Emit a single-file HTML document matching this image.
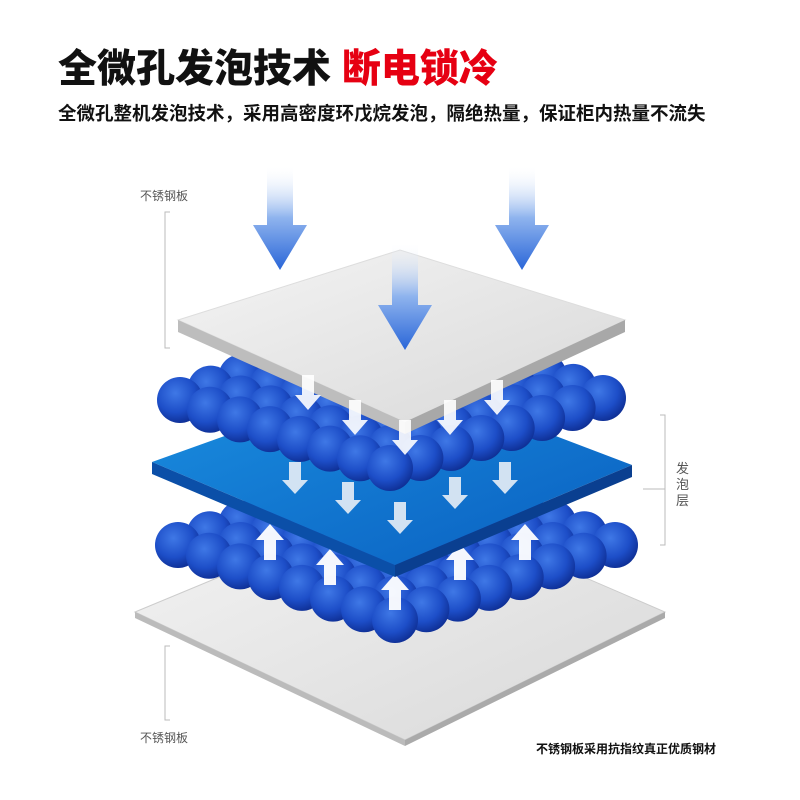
<!DOCTYPE html>
<html><head><meta charset="utf-8">
<style>
html,body{margin:0;padding:0;background:#fff;}
#w{position:relative;width:800px;height:800px;overflow:hidden;font-family:"Liberation Sans","Noto Sans CJK SC",sans-serif;}
.t{position:absolute;white-space:nowrap;}
</style></head><body><div id="w">
<div class="t" style="left:58px;top:38px;font-size:39px;font-weight:900;color:#111;letter-spacing:0px;">全微孔发泡技术 <span style="color:#e60012">断电锁冷</span></div>
<div class="t" style="left:58px;top:100px;font-size:18.5px;font-weight:700;color:#111;">全微孔整机发泡技术，采用高密度环戊烷发泡，隔绝热量，保证柜内热量不流失</div>
<div class="t" style="left:140px;top:187px;font-size:12px;color:#555;">不锈钢板</div>
<div class="t" style="left:140px;top:729px;font-size:12px;color:#555;">不锈钢板</div>
<div class="t" style="left:676px;top:461px;font-size:13px;color:#555;line-height:16px;width:14px;white-space:normal;">发泡层</div>
<div class="t" style="left:536px;top:740px;font-size:12px;font-weight:700;color:#111;">不锈钢板采用抗指纹真正优质钢材</div>
<svg id="s" width="800" height="800" style="position:absolute;left:0;top:0">
<defs>
<linearGradient id="ar" x1="0" y1="0" x2="0" y2="1"><stop offset="0" stop-color="#fff" stop-opacity="0"/><stop offset="0.5" stop-color="#8fb4ee"/><stop offset="1" stop-color="#2a66d8"/></linearGradient>
<radialGradient id="ball" cx="0.4" cy="0.35" r="0.7"><stop offset="0" stop-color="#3f78e6"/><stop offset="0.6" stop-color="#1d4ec8"/><stop offset="1" stop-color="#0d2c90"/></radialGradient>
<linearGradient id="pl" x1="0" y1="0" x2="1" y2="1"><stop offset="0" stop-color="#f4f4f4"/><stop offset="1" stop-color="#d8d8d8"/></linearGradient>
<linearGradient id="bl" x1="0" y1="0" x2="1" y2="1"><stop offset="0" stop-color="#1a8fe0"/><stop offset="1" stop-color="#0a5fc0"/></linearGradient>
</defs>
<g stroke="#bbb" fill="none" stroke-width="1">
<path d="M170 212 H165 V348 H170"/><path d="M660 415 H665 V545 H660"/><path d="M643 489 H665"/><path d="M170 646 H165 V720 H170"/>
</g>
<g id="g"></g>
</svg>
<script>
var g=document.getElementById('g'),h='';
function poly(p,f,extra){return '<polygon points="'+p+'" fill="'+f+'" '+(extra||'')+'/>';}
h+=poly('135,612 405,500 665,612 405,740','url(#pl)','stroke="#ccc"');
h+=poly('135,612 405,740 405,746 135,618','#bbb');
h+=poly('405,740 665,612 665,618 405,746','#aaa');
function balls(L,T,R,B,n){var arr=[];for(var i=0;i<=n;i++)for(var j=0;j<=n;j++){var u=i/n,v=j/n;var x=L[0]+u*(T[0]-L[0])+v*(B[0]-L[0])+(u*v)*(R[0]-T[0]-B[0]+L[0]);var y=L[1]+u*(T[1]-L[1])+v*(B[1]-L[1])+(u*v)*(R[1]-T[1]-B[1]+L[1]);arr.push([x,y]);}
arr.sort(function(a,b){return a[1]-b[1]});var s='';arr.forEach(function(p){s+='<circle cx="'+p[0].toFixed(1)+'" cy="'+p[1].toFixed(1)+'" r="23" fill="url(#ball)"/>';});return s;}
h+=balls([178,545],[400,470],[615,545],[395,620],7);
[[270,540],[330,565],[395,590],[460,560],[525,540]].forEach(function(a){h+='<polygon points="'+(a[0]-6)+','+(a[1]+20)+' '+(a[0]-6)+','+a[1]+' '+(a[0]-14)+','+a[1]+' '+a[0]+','+(a[1]-16)+' '+(a[0]+14)+','+a[1]+' '+(a[0]+6)+','+a[1]+' '+(a[0]+6)+','+(a[1]+20)+'" fill="#fff" opacity="0.95"/>';});
h+=poly('152,462 395,375 632,465 395,565','url(#bl)');
h+=poly('152,462 395,565 395,577 152,474','#0b4fa8');
h+=poly('395,565 632,465 632,477 395,577','#0a3f90');
[[295,480],[348,500],[400,520],[455,495],[505,480]].forEach(function(a){h+='<polygon points="'+(a[0]-6)+','+(a[1]-18)+' '+(a[0]+6)+','+(a[1]-18)+' '+(a[0]+6)+','+a[1]+' '+(a[0]+13)+','+a[1]+' '+a[0]+','+(a[1]+14)+' '+(a[0]-13)+','+a[1]+' '+(a[0]-6)+','+a[1]+'" fill="#e8eef6" opacity="0.9"/>';});
h+=balls([180,400],[395,320],[603,398],[390,468],7);
h+=poly('178,320 400,250 625,320 405,422','url(#pl)','stroke="#ddd"');
h+=poly('178,320 405,422 405,434 178,332','#bdbdbd');
h+=poly('405,422 625,320 625,332 405,434','#a8a8a8');
[[308,395],[355,420],[405,440],[450,420],[497,400]].forEach(function(a){h+='<polygon points="'+(a[0]-6)+','+(a[1]-20)+' '+(a[0]+6)+','+(a[1]-20)+' '+(a[0]+6)+','+a[1]+' '+(a[0]+13)+','+a[1]+' '+a[0]+','+(a[1]+15)+' '+(a[0]-13)+','+a[1]+' '+(a[0]-6)+','+a[1]+'" fill="#fff" opacity="0.9"/>';});
function big(x,y1,y2){return '<polygon points="'+(x-13)+','+y1+' '+(x+13)+','+y1+' '+(x+13)+','+(y2-45)+' '+(x+27)+','+(y2-45)+' '+x+','+y2+' '+(x-27)+','+(y2-45)+' '+(x-13)+','+(y2-45)+'" fill="url(#ar)"/>';}
h+=big(280,165,270)+big(522,165,270)+big(405,242,350);
g.innerHTML=h;
</script>
</div></body></html>
